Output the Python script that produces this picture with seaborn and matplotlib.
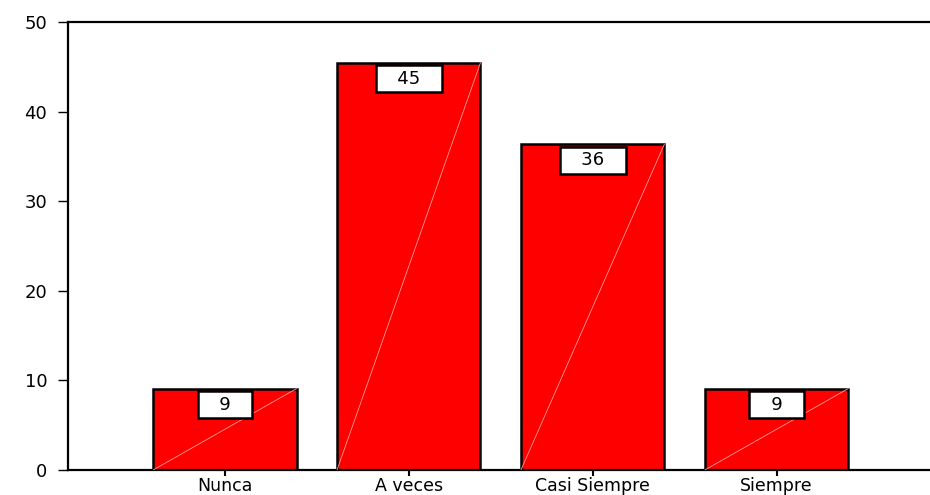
import matplotlib
matplotlib.use("Agg")
import matplotlib.pyplot as plt
import seaborn as sns
import pandas as pd

categories = ["Nunca", "A veces", "Casi Siempre", "Siempre"]
values = [9.09, 45.45, 36.36, 9.09]
labels = ["9", "45", "36", "9"]
y_ticks = [0, 10, 20, 30, 40, 50]

sns.set_style("white")
plt.rcParams["font.family"] = ["DejaVu Sans"]
plt.rcParams["text.color"] = "black"
plt.rcParams["xtick.color"] = "black"
plt.rcParams["ytick.color"] = "black"

df = pd.DataFrame({"cat": categories, "val": values})

fig = plt.figure(figsize=(9.3, 4.95), dpi=100)
ax = fig.add_axes([0.0731, 0.0505, 0.93, 0.9051])

bar_w = 0.78
sns.barplot(data=df, x="cat", y="val", color="#ff0000", saturation=1,
            edgecolor="black", linewidth=1.8, width=bar_w, ax=ax, zorder=2)

for i, (v, lab) in enumerate(zip(values, labels)):
    ax.plot([i - bar_w / 2, i + bar_w / 2], [0, v], color="#ff9a9a", lw=0.6, zorder=3)
    ax.annotate(f"   {lab}   ", xy=(i, v), xytext=(0, -11.5), textcoords="offset points",
                ha="center", va="center", fontsize=13, color="black", zorder=5,
                bbox=dict(boxstyle="square,pad=0.24", fc="white", ec="black", lw=1.8))

ax.set_ylim(0, 50)
ax.set_yticks(y_ticks)
ax.set_xlim(-0.853, 3.85)
ax.set_xlabel("")
ax.set_ylabel("")

for s in ["left", "bottom", "top"]:
    ax.spines[s].set_visible(True)
    ax.spines[s].set_linewidth(1.6)
    ax.spines[s].set_color("black")
ax.spines["right"].set_visible(False)

ax.tick_params(axis="y", direction="out", length=7, width=1, left=True,
               labelsize=13, pad=8, labelcolor="black")
ax.tick_params(axis="x", direction="out", length=4, width=1.5, bottom=True,
               labelsize=12.5, pad=1, labelcolor="black")

fig.savefig("out.png", dpi=100)
